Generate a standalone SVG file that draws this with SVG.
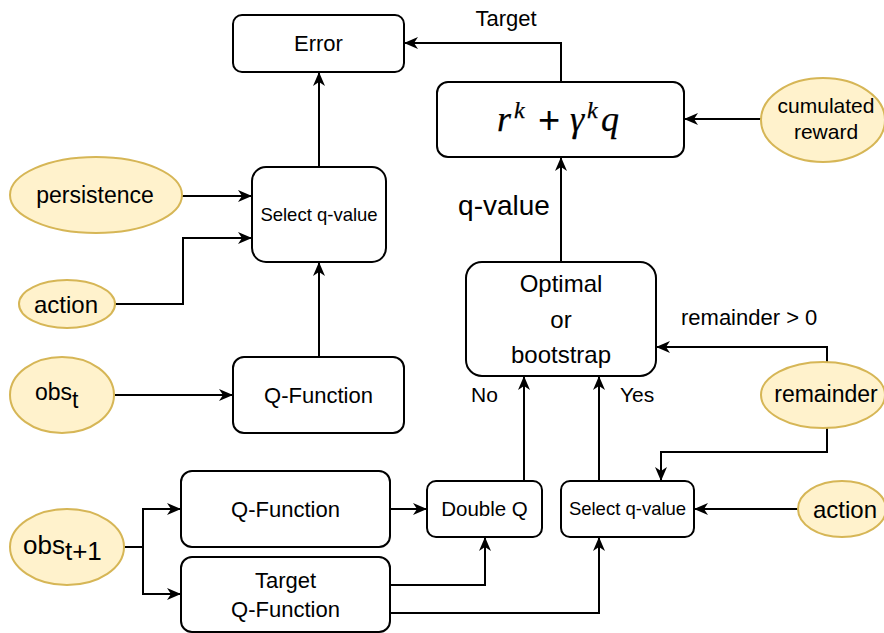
<svg xmlns="http://www.w3.org/2000/svg" width="884" height="633" viewBox="0 0 884 633">
  <style>
    .box { fill: #ffffff; stroke: #000000; stroke-width: 2; }
    .oval { fill: #fff2cc; stroke: #d6b656; stroke-width: 2; }
    .edge { fill: none; stroke: #000000; stroke-width: 2; }
    text { font-family: "Liberation Sans", Arial, sans-serif; fill: #000000; }
    .c { text-anchor: middle; }
    .math { font-family: "Liberation Serif", "DejaVu Serif", serif; font-style: italic; stroke: #000000; stroke-width: 0.25; }
  </style>
  <defs>
    <marker id="arrow" viewBox="0 0 14 12" refX="13" refY="6" markerWidth="14" markerHeight="12" markerUnits="userSpaceOnUse" orient="auto">
      <path d="M0,0 L14,6 L0,12 L4,6 Z" fill="#000000"/>
    </marker>
  </defs>
  <rect width="884" height="633" fill="#ffffff"/>

  <!-- connectors -->
  <g id="edges">
    <path class="edge" d="M319,167 V73" marker-end="url(#arrow)"/>
    <path class="edge" d="M182,196 H251" marker-end="url(#arrow)"/>
    <path class="edge" d="M114,304 H183 V238 H251" marker-end="url(#arrow)"/>
    <path class="edge" d="M319,357 V263" marker-end="url(#arrow)"/>
    <path class="edge" d="M115,395 H232" marker-end="url(#arrow)"/>
    <path class="edge" d="M561,82 V43 H405" marker-end="url(#arrow)"/>
    <path class="edge" d="M761,119 H685" marker-end="url(#arrow)"/>
    <path class="edge" d="M561,262 V158" marker-end="url(#arrow)"/>
    <path class="edge" d="M827,362 V347 H657" marker-end="url(#arrow)"/>
    <path class="edge" d="M827,428 V452 H661 V480" marker-end="url(#arrow)"/>
    <path class="edge" d="M798,509 H695" marker-end="url(#arrow)"/>
    <path class="edge" d="M524,481 V377" marker-end="url(#arrow)"/>
    <path class="edge" d="M599,481 V377" marker-end="url(#arrow)"/>
    <path class="edge" d="M124,547 H143 V509 H180" marker-end="url(#arrow)"/>
    <path class="edge" d="M143,547 V594 H180" marker-end="url(#arrow)"/>
    <path class="edge" d="M390,509 H426" marker-end="url(#arrow)"/>
    <path class="edge" d="M390,585 H485 V538" marker-end="url(#arrow)"/>
    <path class="edge" d="M390,613 H599 V538" marker-end="url(#arrow)"/>
  </g>

  <!-- edge labels -->
  <g id="edge-labels">
    <text class="c" x="506" y="26" font-size="22">Target</text>
    <text class="c" x="504" y="215" font-size="28">q-value</text>
    <text x="681" y="325" font-size="22">remainder &gt; 0</text>
    <text x="471" y="402" font-size="21">No</text>
    <text x="620" y="402" font-size="21">Yes</text>
  </g>

  <g id="error">
    <rect class="box" x="233" y="15" width="171" height="57" rx="9"/>
    <text class="c" x="318.5" y="51" font-size="22">Error</text>
  </g>

  <g id="select-left">
    <rect class="box" x="252" y="167" width="134" height="95" rx="14"/>
    <text class="c" x="319" y="221" font-size="18.5">Select q-value</text>
  </g>

  <g id="qfunction-t">
    <rect class="box" x="233" y="357" width="171" height="76" rx="11"/>
    <text class="c" x="318.5" y="403" font-size="22">Q-Function</text>
  </g>

  <g id="persistence">
    <ellipse class="oval" cx="96" cy="195" rx="86" ry="38"/>
    <text class="c" x="95" y="203" font-size="23">persistence</text>
  </g>

  <g id="action-left">
    <ellipse class="oval" cx="67" cy="304" rx="48" ry="24"/>
    <text class="c" x="66" y="313" font-size="24">action</text>
  </g>

  <g id="obs-t">
    <ellipse class="oval" cx="62" cy="395" rx="52" ry="38"/>
    <text x="35" y="400" font-size="23">obs<tspan dy="8">t</tspan></text>
  </g>

  <g id="target">
    <rect class="box" x="437" y="82" width="247" height="75" rx="11"/>
    <text class="math" x="497" y="131" font-size="36">r</text>
    <text class="math" x="514" y="118" font-size="24">k</text>
    <text x="538" y="133" font-size="38" font-family="Liberation Serif, serif">+</text>
    <text class="math" x="570" y="131" font-size="36">γ</text>
    <text class="math" x="587" y="118" font-size="24">k</text>
    <text class="math" x="601" y="131" font-size="36">q</text>
  </g>

  <g id="cumulated-reward">
    <ellipse class="oval" cx="823" cy="120" rx="62" ry="42"/>
    <text class="c" x="826" y="113" font-size="21">cumulated</text>
    <text class="c" x="826" y="139" font-size="21">reward</text>
  </g>

  <g id="optimal">
    <rect class="box" x="466" y="262" width="190" height="114" rx="16"/>
    <text class="c" x="561" y="292" font-size="24">Optimal</text>
    <text class="c" x="561" y="328" font-size="24">or</text>
    <text class="c" x="561" y="363" font-size="24">bootstrap</text>
  </g>

  <g id="remainder">
    <ellipse class="oval" cx="823" cy="395" rx="62" ry="33"/>
    <text class="c" x="826" y="402" font-size="23">remainder</text>
  </g>

  <g id="action-right">
    <ellipse class="oval" cx="842" cy="509" rx="44" ry="28"/>
    <text class="c" x="845" y="518" font-size="24">action</text>
  </g>

  <g id="qfunction-next">
    <rect class="box" x="181" y="471" width="209" height="76" rx="11"/>
    <text class="c" x="285.5" y="517" font-size="22">Q-Function</text>
  </g>

  <g id="target-qfunction">
    <rect class="box" x="181" y="557" width="209" height="75" rx="11"/>
    <text class="c" x="285.5" y="588" font-size="22">Target</text>
    <text class="c" x="285.5" y="617" font-size="22">Q-Function</text>
  </g>

  <g id="obs-next">
    <ellipse class="oval" cx="67" cy="547" rx="57" ry="38"/>
    <text x="23" y="554" font-size="26">obs<tspan dy="6">t+1</tspan></text>
  </g>

  <g id="double-q">
    <rect class="box" x="427" y="481" width="115" height="56" rx="9"/>
    <text class="c" x="484.5" y="516" font-size="20.5">Double Q</text>
  </g>

  <g id="select-right">
    <rect class="box" x="561" y="481" width="133" height="56" rx="9"/>
    <text class="c" x="627.5" y="515" font-size="18.5">Select q-value</text>
  </g>
</svg>
